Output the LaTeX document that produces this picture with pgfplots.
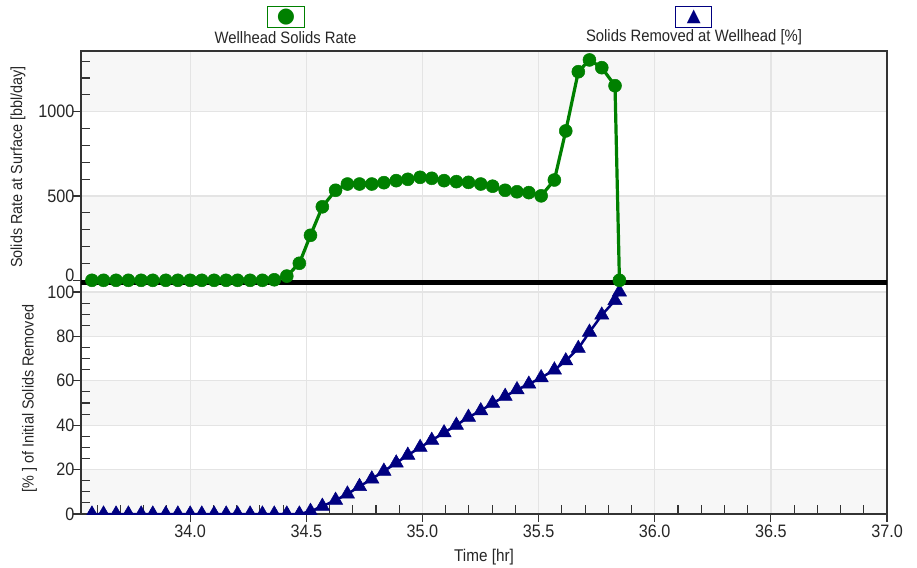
\documentclass[border=0pt]{standalone}
\usepackage{pgfplots}
\pgfplotsset{compat=1.18}
\usepackage{pgfplotstable}
\usepackage{fontspec}
\setmainfont{Liberation Sans}[FakeStretch=0.9]
\newfontfamily\symfont{DejaVu Sans}
\definecolor{wgreen}{HTML}{008000}
\definecolor{wnavy}{HTML}{000080}
\definecolor{bandgray}{HTML}{F7F7F7}
\definecolor{gridgray}{HTML}{E4E4E4}
\definecolor{axisdark}{HTML}{333333}

\pgfplotstableread{
t rate pct
33.577 0 0
33.627 0 0
33.681 0 0
33.734 0 0
33.789 0 0
33.839 0 0
33.895 0 0
33.947 0 0
34.000 0 0
34.050 0 0
34.103 0 0
34.155 0 0
34.204 0 0
34.258 0 0
34.311 0 0
34.362 3 0
34.416 25 0
34.470 101 0
34.518 267 1.2
34.569 436 3.5
34.626 534 6.2
34.677 571 9.0
34.729 571 12.4
34.782 571 15.8
34.834 579 19.3
34.887 591 23.0
34.937 599 26.5
34.990 611 30.0
35.040 605 33.2
35.093 591 36.6
35.146 585 40.0
35.198 581 43.6
35.251 571 46.5
35.302 558 49.9
35.356 534 53.0
35.407 525 56.0
35.458 520 58.5
35.511 501 61.4
35.568 595 64.9
35.617 886 69.0
35.671 1237 74.6
35.719 1307 81.9
35.772 1261 89.6
35.829 1154 96.2
35.848 0 100
}\datatable

\pgfplotsset{
  set layers,
  panel/.style={
    scale only axis, width=806pt, anchor=south west,
    xmin=33.53, xmax=37,
    xtick={34,34.5,35,35.5,36,36.5,37},
    grid=major,
    major grid style={draw=gridgray, line width=1.3pt},
    axis line style={draw=axisdark, line width=1.3pt},
    tick align=inside,
    xtick pos=left, ytick pos=left,
    major tick length=8pt, minor tick length=9pt,
    tick style={draw=axisdark, line width=1.1pt},
    major y tick style={xshift=-8pt},
    /pgf/number format/assume math mode=true,
    /pgf/number format/1000 sep={},
    ticklabel style={font=\fontsize{18}{18}\selectfont, text=black!85},
    yticklabel style={xshift=-3pt},
    label style={font=\fontsize{16}{16}\selectfont, text=black!85},
  }
}

\begin{document}
\begin{tikzpicture}[x=1pt,y=1pt]

% ---------- bottom panel ----------
\begin{axis}[panel,
  at={(81pt,52pt)}, height=231pt,
  ymin=0, ymax=104.05,
  ytick={0,20,40,60,80,100},
  minor ytick={5,10,15,25,30,35,45,50,55,65,70,75,85,90,95},
  minor xtick={33.6,33.7,33.8,33.9,34.1,34.2,34.3,34.4,34.6,34.7,34.8,34.9,35.1,35.2,35.3,35.4,35.6,35.7,35.8,35.9,36.1,36.2,36.3,36.4,36.6,36.7,36.8,36.9},
  major x tick style={yshift=-8pt},
  xticklabel style={yshift=-7pt, /pgf/number format/fixed, /pgf/number format/fixed zerofill, /pgf/number format/precision=1},
  xlabel={Time [hr]},
  xlabel style={at={(axis description cs:0.5,-0.185)}, anchor=center, font=\fontsize{17}{17}\selectfont},
  ylabel={[\% ] of Initial Solids Removed},
  ylabel style={at={(axis description cs:-0.0639,0.5)}, anchor=center},
  clip marker paths=true,
]
\begin{pgfonlayer}{axis background}
\fill[bandgray] (axis cs:33.53,0) rectangle (axis cs:37,20);
\fill[bandgray] (axis cs:33.53,40) rectangle (axis cs:37,60);
\fill[bandgray] (axis cs:33.53,80) rectangle (axis cs:37,100);
\end{pgfonlayer}
\addplot[wnavy, line width=2.5pt, mark=triangle*, mark size=8.2pt, mark options={fill=wnavy, draw=wnavy, line width=0.5pt}] table[x=t, y=pct] {\datatable};
\end{axis}

% ---------- top panel ----------
\begin{axis}[panel,
  at={(81pt,283pt)}, height=232pt,
  ymin=-16, ymax=1360,
  ytick={500,1000},
  extra y ticks={0},
  extra y tick style={yticklabel style={yshift=5pt}},
  minor ytick={100,200,300,400,600,700,800,900,1100,1200,1300},
  xticklabels={},
  major x tick style={draw=none},
  minor x tick style={draw=none},
  ylabel={Solids Rate at Surface [bbl/day]},
  ylabel style={at={(axis description cs:-0.0782,0.5)}, anchor=center},
  clip=false,
]
\begin{pgfonlayer}{axis background}
\fill[bandgray] (axis cs:33.53,0) rectangle (axis cs:37,500);
\fill[bandgray] (axis cs:33.53,1000) rectangle (axis cs:37,1360);
\end{pgfonlayer}
\draw[black, line width=5pt] (rel axis cs:0,0) -- (rel axis cs:1,0);
\addplot[wgreen, line width=3.2pt, mark=*, mark size=6.5pt, mark options={fill=wgreen, draw=wgreen, line width=0.5pt}] table[x=t, y=rate] {\datatable};
\end{axis}

% ---------- legend ----------
\node[draw=wgreen, line width=1.3pt, minimum width=37pt, minimum height=21pt, inner sep=0pt] at (286,548.8)
  {\symfont\fontsize{21}{21}\selectfont\textcolor{wgreen}{●}};
\node[font=\fontsize{16.5}{16.5}\selectfont, text=black!85] at (285.5,528.5) {Wellhead Solids Rate};
\node[draw=wnavy, line width=1.3pt, minimum width=36pt, minimum height=21pt, inner sep=0pt] at (693.8,548.8)
  {\symfont\fontsize{18}{18}\selectfont\textcolor{wnavy}{▲}};
\node[font=\fontsize{16.5}{16.5}\selectfont, text=black!85] at (694,528.5) {Solids Removed at Wellhead [\%]};
\path (0,0) rectangle (917,566);
\end{tikzpicture}
\end{document}
